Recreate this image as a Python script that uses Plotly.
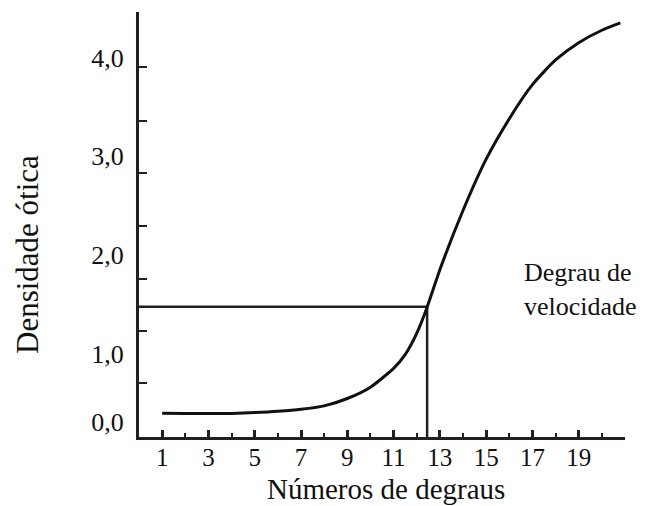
import plotly.graph_objects as go

# Curve data: step number vs optical density
steps = [1, 2, 3, 4, 5, 6, 7, 8, 9, 10, 11, 11.5, 12, 12.45, 13, 14, 15, 16, 17, 18, 19, 20, 20.8]
density = [0.445, 0.443, 0.442, 0.444, 0.452, 0.465, 0.485, 0.52, 0.595, 0.71, 0.90, 1.04,
           1.255, 1.52, 1.90, 2.50, 3.02, 3.43, 3.775, 4.025, 4.20, 4.326, 4.40]

# Speed step marker (degrau de velocidade)
speed_step = 12.45
speed_density = 1.525

# Axes
x_range = [0, 21]
y_range = [0.205, 4.511]
x_major_ticks = [1, 3, 5, 7, 9, 11, 13, 15, 17, 19]
x_minor_ticks = [2, 4, 6, 8, 10, 12, 14, 16, 18, 20]
y_label_vals = [0.31, 1, 2, 3, 4]
y_label_text = ["0,0", "1,0", "2,0", "3,0", "4,0"]
y_tick_marks = [0.752, 1.279, 1.805, 2.342, 2.879, 3.406, 3.953]

x_title = "Números de degraus"
y_title = "Densidade ótica"
note_text = "Degrau de<br>velocidade"

ink = "#231f20"
FONT = "Liberation Serif, Times New Roman, serif"

# page body has an 8px margin: figure is placed at (8, 8)
W, H = 638, 498
L, R, T, B = 131, 21, 4, 69
PW, PH = W - L - R, H - T - B


def px_x(sx):
    return (sx - 8 - L) / PW


def px_y(sy):
    return (H - B - (sy - 8)) / PH


fig = go.Figure()

fig.add_trace(go.Scatter(
    x=[x_range[0], speed_step], y=[speed_density, speed_density],
    mode="lines", line=dict(color=ink, width=2.5), hoverinfo="skip"))
fig.add_trace(go.Scatter(
    x=[speed_step, speed_step], y=[speed_density, y_range[0]],
    mode="lines", line=dict(color=ink, width=2.5), hoverinfo="skip"))
fig.add_trace(go.Scatter(
    x=steps, y=density, mode="lines",
    line=dict(color="#111111", width=3, shape="spline", smoothing=0.6)))

fig.update_layout(
    width=W, height=H,
    margin=dict(l=L, r=R, t=T, b=B),
    paper_bgcolor="white", plot_bgcolor="white",
    showlegend=False,
    font=dict(family=FONT, color="#111111", size=22),
    xaxis=dict(
        range=x_range, showgrid=False, zeroline=False,
        showline=True, linecolor=ink, linewidth=3,
        tickmode="array", tickvals=x_major_ticks,
        ticks="inside", ticklen=7, tickwidth=2.5, tickcolor=ink,
        ticklabelstandoff=-4,
        tickfont=dict(family=FONT, size=25, color="#111111"),
        minor=dict(tickvals=x_minor_ticks, ticks="inside", ticklen=4,
                   tickwidth=1.5, tickcolor=ink, showgrid=False),
    ),
    yaxis=dict(
        range=y_range, showgrid=False, zeroline=False,
        showline=True, linecolor=ink, linewidth=3,
        tickmode="array", tickvals=y_label_vals, ticktext=y_label_text,
        ticks="inside", ticklen=0, tickwidth=0.01, tickcolor="white",
        ticklabelstandoff=7, ticklabelshift=-5,
        tickfont=dict(family=FONT, size=26, color="#111111"),
        minor=dict(tickvals=y_tick_marks, ticks="inside", ticklen=8,
                   tickwidth=1.5, tickcolor=ink, showgrid=False),
    ),
    annotations=[
        dict(text=x_title, xref="paper", yref="paper",
             x=px_x(386), y=px_y(489),
             xanchor="center", yanchor="middle", showarrow=False,
             font=dict(family=FONT, size=29, color="#111111")),
        dict(text=y_title, xref="paper", yref="paper",
             x=px_x(27), y=px_y(255),
             xanchor="center", yanchor="middle", textangle=-90, showarrow=False,
             font=dict(family=FONT, size=31, color="#111111")),
        dict(text=note_text, xref="paper", yref="paper",
             x=px_x(522), y=px_y(289),
             xanchor="left", yanchor="middle", align="left", showarrow=False,
             font=dict(family=FONT, size=26, color="#111111")),
    ],
)

fig.write_html("out.html")
